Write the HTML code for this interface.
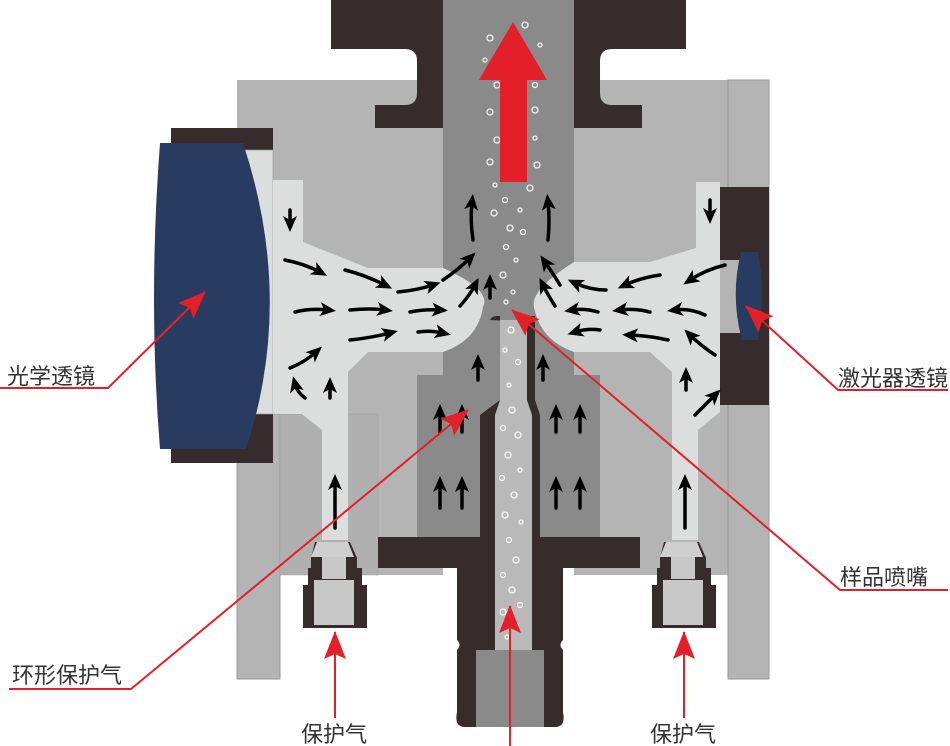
<!DOCTYPE html>
<html><head><meta charset="utf-8"><style>
html,body{margin:0;padding:0;background:#fff;}
svg{display:block;}
text{font-family:"Liberation Sans","Noto Sans CJK SC",sans-serif;fill:#333;font-size:22px;}
</style></head><body>
<svg width="950" height="746" viewBox="0 0 950 746" xmlns="http://www.w3.org/2000/svg">
<defs>
<marker id="ah" markerWidth="16" markerHeight="16" refX="8" refY="8" orient="auto" markerUnits="userSpaceOnUse"><path d="M0,1 L16,8 L0,15 L4,8 Z" fill="#000"/></marker>
<marker id="rh" markerWidth="28" markerHeight="22" refX="27" refY="11" orient="auto" markerUnits="userSpaceOnUse"><path d="M0,0 L28,11 L0,22 L5,11 Z" fill="#e3202a"/></marker>
</defs>
<rect x="237" y="80" width="206" height="495" fill="#b4b4b4"/>
<rect x="574" y="80" width="154" height="495" fill="#b4b4b4"/>
<rect x="237" y="414" width="43" height="265" fill="#b4b4b4" stroke="#9a9a9a"/>
<rect x="280" y="414" width="98" height="161" fill="#b0b0b0" stroke="#a0a0a0" stroke-width="0.5"/>
<rect x="728" y="80" width="41" height="599" fill="#b4b4b4" stroke="#9a9a9a"/>
<path d="M331,0 H443 V128 H375 V105 H405 Q417,105 417,93 V61 Q417,49 405,49 H331 Z" fill="#352c2b"/>
<path d="M574,0 H686 V49 H612 Q600,49 600,61 V93 Q600,105 612,105 H642 V128 H574 Z" fill="#352c2b"/>
<rect x="443" y="0" width="131" height="380" fill="#8a8a8a"/>
<rect x="417" y="375" width="183" height="165" fill="#8a8a8a"/>
<rect x="378" y="537" width="262" height="31" fill="#352c2b"/>
<path d="M457,568 H563 V640 Q558,645 563,650 V712 Q566,727 555,727 H465 Q454,727 457,712 V650 Q462,645 457,640 Z" fill="#352c2b"/>
<rect x="476" y="650" width="68" height="77" fill="#8a8a8a"/>
<path d="M490,320 Q492,316 497,316 H500 V400 L480,415 V537 H540 V415 L535,400 V316 H530 Q534,318 535,322 Z" fill="#352c2b"/>
<path d="M500,320 H527 V400 L532,415 V650 H495 V415 L500,400 Z" fill="#b9b9b9"/>
<rect x="171" y="128" width="102" height="335" fill="#352c2b"/>
<rect x="237" y="150" width="36" height="264" fill="#dcdddd" stroke="#9a9a9a" stroke-width="0.6"/>
<path d="M160,143 H243 Q295,300 246,449 H160 Q148,300 160,143 Z" fill="#283c61"/>
<path d="M273,180 H303 V242 L368,268 H443 Q492,290 483,307 Q478,340 443,352 H368 L348,372 V540 H322 V430 L302,414 H273 Z" fill="#dcdddd"/>
<path d="M720,182 H696 V248 L650,262 H574 Q530,290 534,307 Q540,340 574,352 H650 L672,372 V540 H698 V430 L720,412 Z" fill="#dcdddd"/>
<rect x="720" y="187" width="49" height="218" fill="#352c2b"/>
<rect x="720" y="260" width="20" height="73" fill="#b4b4b4"/>
<path d="M741,252 H758 Q766,296 758,340 H742 Q730,296 741,252 Z" fill="#283c61"/>
<g id="fit">
<path d="M315,542 H350 L357,558 V568 H362 V585 H367 V628 H303 V585 H308 V568 H311 V558 Z" fill="#352c2b"/>
<path d="M317,542 H348 L354,557 H311 Z" fill="#cfcfcf"/>
<rect x="322" y="557" width="24" height="22" fill="#c8c8c8"/>
<rect x="314" y="580" width="40" height="45" fill="#c8c8c8"/>
</g>
<use href="#fit" x="349"/>
<g fill="none" stroke="#fff" stroke-width="1.3" opacity="0.9">
<circle cx="490" cy="38" r="3"/><circle cx="525" cy="25" r="3"/><circle cx="540" cy="45" r="2"/><circle cx="485" cy="60" r="2"/><circle cx="497" cy="85" r="3"/><circle cx="535" cy="85" r="2.5"/><circle cx="490" cy="112" r="3"/><circle cx="535" cy="110" r="3"/><circle cx="497" cy="140" r="3"/><circle cx="535" cy="138" r="2"/><circle cx="490" cy="162" r="3"/><circle cx="537" cy="165" r="3"/><circle cx="495" cy="185" r="2"/><circle cx="530" cy="188" r="3"/><circle cx="505" cy="200" r="2.5"/><circle cx="520" cy="210" r="2"/><circle cx="494" cy="213" r="3"/><circle cx="510" cy="228" r="3"/><circle cx="523" cy="232" r="2.5"/><circle cx="506" cy="247" r="2.5"/><circle cx="516" cy="260" r="2"/><circle cx="503" cy="275" r="3"/><circle cx="513" cy="292" r="2"/><circle cx="506" cy="302" r="2"/><circle cx="511" cy="330" r="3"/><circle cx="505" cy="350" r="2"/><circle cx="518" cy="362" r="2.5"/><circle cx="509" cy="385" r="2"/><circle cx="512" cy="410" r="3"/><circle cx="503" cy="428" r="2.5"/><circle cx="518" cy="435" r="3"/><circle cx="508" cy="455" r="3"/><circle cx="520" cy="470" r="2"/><circle cx="502" cy="478" r="2.5"/><circle cx="514" cy="495" r="3"/><circle cx="505" cy="515" r="3"/><circle cx="521" cy="522" r="2"/><circle cx="509" cy="540" r="2.5"/><circle cx="516" cy="560" r="3"/><circle cx="503" cy="575" r="2.5"/><circle cx="512" cy="590" r="3"/><circle cx="520" cy="605" r="2.5"/><circle cx="503" cy="612" r="3"/><circle cx="516" cy="625" r="2"/><circle cx="507" cy="637" r="2"/>
</g>
<path d="M513,22 L547,80 H527 V182 H500 V80 H479 Z" fill="#e3202a"/>
<g fill="none" stroke="#000" stroke-width="3.5" stroke-linecap="round" marker-end="url(#ah)">
<path d="M290,210 V224"/>
<path d="M710,200 V216"/>
<path d="M285,260 Q305,264 320,272"/><path d="M345,270 Q365,275 385,285"/><path d="M398,292 Q418,290 433,285"/><path d="M443,280 Q458,270 470,258"/>
<path d="M295,312 Q310,308 328,310"/><path d="M350,310 Q370,308 385,310"/><path d="M410,312 Q425,309 440,310"/>
<path d="M350,340 Q370,338 390,333"/><path d="M418,332 Q430,330 443,333"/>
<path d="M290,368 Q305,362 316,352"/><path d="M330,398 V385"/><path d="M305,398 Q297,392 295,384"/>
<path d="M460,306 Q470,295 475,285"/><path d="M490,298 V282"/>
<path d="M473,240 Q470,220 472,202"/><path d="M548,240 Q550,220 548,202"/>
<path d="M725,265 Q705,270 690,280"/><path d="M660,275 Q640,278 625,285"/><path d="M606,290 Q590,290 575,283"/><path d="M560,285 Q552,272 545,262"/>
<path d="M705,315 Q690,308 675,310"/><path d="M650,312 Q635,308 620,310"/><path d="M598,312 Q585,308 572,310"/>
<path d="M668,340 Q650,336 630,335"/><path d="M600,330 Q588,328 575,332"/>
<path d="M715,355 Q700,345 690,335"/><path d="M686,390 V375"/><path d="M695,415 Q705,405 715,395"/>
<path d="M555,306 Q548,295 543,285"/>
<path d="M440,432 V412"/><path d="M462,432 V412"/><path d="M440,508 V484"/><path d="M462,508 V484"/>
<path d="M556,432 V412"/><path d="M580,432 V412"/><path d="M556,508 V484"/><path d="M580,508 V484"/>
<path d="M335,528 V482"/><path d="M685,528 V482"/>
<path d="M478,380 V362"/><path d="M543,380 V362"/>
</g>
<g stroke="#e3202a" stroke-width="2" fill="none">
<path d="M0,388 H108 L205,292" marker-end="url(#rh)"/>
<path d="M948,390 H838 L746,306" marker-end="url(#rh)"/>
<path d="M948,590 H840 L512,310" marker-end="url(#rh)"/>
<path d="M9,689 H131 L468,410" marker-end="url(#rh)"/>
<path d="M335,718 V632" marker-end="url(#rh)"/>
<path d="M684,718 V632" marker-end="url(#rh)"/>
<path d="M510,746 V606" marker-end="url(#rh)"/>
</g>
<text x="7" y="384">光学透镜</text>
<text x="838" y="386">激光器透镜</text>
<text x="840" y="585">样品喷嘴</text>
<text x="12" y="683">环形保护气</text>
<text x="301" y="742">保护气</text>
<text x="650" y="742">保护气</text>
</svg>
</body></html>
